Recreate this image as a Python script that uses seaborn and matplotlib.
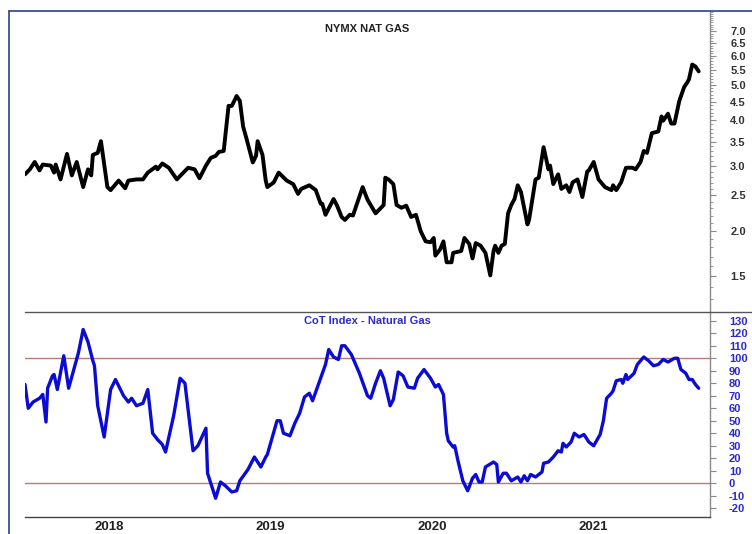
import matplotlib
matplotlib.use('Agg')
import matplotlib.pyplot as plt
import seaborn as sns
from matplotlib.lines import Line2D
from matplotlib.ticker import NullFormatter
from matplotlib.transforms import ScaledTranslation

# NYMEX natural gas (decimal year, price)
gas_years = [2017.59, 2017.62, 2017.65, 2017.68, 2017.70, 2017.75, 2017.77, 2017.78, 2017.81, 2017.85,
             2017.88, 2017.91, 2017.95, 2017.98, 2018.00, 2018.01, 2018.04, 2018.06, 2018.10, 2018.12,
             2018.17, 2018.21, 2018.23, 2018.28, 2018.32, 2018.35, 2018.40, 2018.41, 2018.44, 2018.48,
             2018.53, 2018.56, 2018.60, 2018.64, 2018.67, 2018.71, 2018.74, 2018.77, 2018.79, 2018.82,
             2018.85, 2018.87, 2018.90, 2018.92, 2018.94, 2018.96, 2019.00, 2019.02, 2019.03, 2019.06,
             2019.08, 2019.09, 2019.13, 2019.16, 2019.21, 2019.25, 2019.28, 2019.30, 2019.35, 2019.39,
             2019.42, 2019.43, 2019.45, 2019.50, 2019.52, 2019.55, 2019.57, 2019.60, 2019.62, 2019.68,
             2019.71, 2019.76, 2019.81, 2019.82, 2019.84, 2019.87, 2019.89, 2019.92, 2019.95, 2019.98,
             2020.01, 2020.04, 2020.07, 2020.10, 2020.12, 2020.13, 2020.16, 2020.18, 2020.20, 2020.23,
             2020.24, 2020.29, 2020.31, 2020.34, 2020.36, 2020.38, 2020.41, 2020.44, 2020.47, 2020.49,
             2020.50, 2020.52, 2020.54, 2020.56, 2020.58, 2020.60, 2020.62, 2020.64, 2020.66, 2020.70,
             2020.71, 2020.75, 2020.77, 2020.80, 2020.83, 2020.84, 2020.86, 2020.89, 2020.91, 2020.94,
             2020.96, 2020.98, 2021.01, 2021.04, 2021.07, 2021.08, 2021.11, 2021.14, 2021.18, 2021.22,
             2021.23, 2021.25, 2021.28, 2021.31, 2021.35, 2021.37, 2021.40, 2021.42, 2021.44, 2021.47,
             2021.51, 2021.53, 2021.54, 2021.57, 2021.59, 2021.61, 2021.64, 2021.67, 2021.69, 2021.70,
             2021.72, 2021.74, 2021.76]
gas_price = [2.85, 2.94, 3.08, 2.92, 3.03, 3.01, 2.88, 3.03, 2.76, 3.24,
             2.83, 3.08, 2.63, 2.94, 2.83, 3.22, 3.26, 3.51, 2.63, 2.58,
             2.74, 2.61, 2.74, 2.76, 2.76, 2.88, 2.99, 2.94, 3.05, 2.97,
             2.76, 2.85, 2.97, 2.94, 2.78, 3.01, 3.16, 3.20, 3.28, 3.30,
             4.38, 4.38, 4.66, 4.52, 3.85, 3.58, 3.07, 3.20, 3.51, 3.22,
             2.74, 2.63, 2.71, 2.88, 2.74, 2.68, 2.52, 2.60, 2.66, 2.58,
             2.37, 2.37, 2.21, 2.44, 2.35, 2.18, 2.14, 2.21, 2.20, 2.63,
             2.43, 2.23, 2.35, 2.79, 2.76, 2.68, 2.35, 2.31, 2.34, 2.18,
             2.21, 1.99, 1.87, 1.86, 1.91, 1.71, 1.78, 1.87, 1.64, 1.64,
             1.74, 1.76, 1.91, 1.84, 1.68, 1.85, 1.82, 1.74, 1.51, 1.76,
             1.82, 1.74, 1.82, 1.84, 2.23, 2.35, 2.44, 2.66, 2.55, 2.08,
             2.14, 2.76, 2.79, 3.38, 2.94, 3.01, 2.68, 2.85, 2.60, 2.66,
             2.55, 2.71, 2.76, 2.47, 2.90, 2.92, 3.08, 2.76, 2.63, 2.58,
             2.66, 2.58, 2.71, 2.97, 2.97, 2.94, 3.08, 3.30, 3.26, 3.69,
             3.73, 4.10, 3.99, 4.17, 3.92, 3.92, 4.52, 4.93, 5.08, 5.18,
             5.68, 5.61, 5.44]

# CoT index (decimal year, index)
cot_years = [2017.59, 2017.61, 2017.64, 2017.68, 2017.70, 2017.72, 2017.73, 2017.76, 2017.77, 2017.79,
             2017.83, 2017.86, 2017.92, 2017.95, 2017.98, 2018.01, 2018.02, 2018.04, 2018.08, 2018.12,
             2018.15, 2018.20, 2018.23, 2018.25, 2018.28, 2018.32, 2018.35, 2018.38, 2018.41, 2018.44,
             2018.46, 2018.51, 2018.55, 2018.58, 2018.63, 2018.66, 2018.71, 2018.72, 2018.77, 2018.80,
             2018.83, 2018.87, 2018.90, 2018.92, 2018.97, 2019.01, 2019.05, 2019.08, 2019.09, 2019.15,
             2019.17, 2019.19, 2019.23, 2019.26, 2019.29, 2019.32, 2019.35, 2019.37, 2019.42, 2019.45,
             2019.47, 2019.50, 2019.53, 2019.55, 2019.57, 2019.61, 2019.66, 2019.71, 2019.73, 2019.76,
             2019.79, 2019.81, 2019.85, 2019.87, 2019.90, 2019.93, 2019.96, 2020.00, 2020.02, 2020.06,
             2020.10, 2020.13, 2020.15, 2020.18, 2020.20, 2020.21, 2020.24, 2020.25, 2020.27, 2020.30,
             2020.33, 2020.36, 2020.38, 2020.40, 2020.42, 2020.44, 2020.49, 2020.51, 2020.52, 2020.55,
             2020.57, 2020.60, 2020.64, 2020.66, 2020.68, 2020.70, 2020.72, 2020.75, 2020.79, 2020.80,
             2020.83, 2020.86, 2020.89, 2020.91, 2020.92, 2020.94, 2020.97, 2020.99, 2021.02, 2021.05,
             2021.08, 2021.11, 2021.15, 2021.17, 2021.19, 2021.22, 2021.23, 2021.25, 2021.28, 2021.29,
             2021.31, 2021.32, 2021.36, 2021.38, 2021.42, 2021.45, 2021.48, 2021.51, 2021.54, 2021.57,
             2021.61, 2021.63, 2021.65, 2021.68, 2021.70, 2021.72, 2021.74, 2021.76]
cot_index = [79, 60, 65, 68, 71, 49, 76, 86, 87, 75,
             102, 76, 104, 123, 113, 98, 94, 62, 37, 75,
             83, 70, 65, 68, 62, 64, 75, 40, 35, 31,
             25, 54, 84, 80, 26, 30, 44, 8, -12, 1,
             -2, -7, -6, 2, 11, 21, 13, 21, 23, 50,
             50, 40, 38, 48, 56, 69, 72, 66, 84, 95,
             107, 101, 99, 110, 110, 103, 88, 70, 68, 80,
             90, 84, 62, 67, 89, 86, 77, 76, 84, 91,
             84, 77, 79, 71, 40, 34, 29, 30, 18, 2,
             -6, 4, 7, 1, 1, 13, 17, 15, 1, 8,
             8, 2, 5, 1, 6, 2, 7, 5, 9, 16,
             17, 21, 26, 25, 32, 29, 33, 40, 37, 39,
             33, 30, 39, 50, 68, 72, 74, 82, 83, 80,
             87, 83, 88, 95, 101, 98, 94, 95, 99, 97,
             100, 100, 91, 88, 83, 83, 79, 76]

price_ticks = [1.5, 2.0, 2.5, 3.0, 3.5, 4.0, 4.5, 5.0, 5.5, 6.0, 6.5, 7.0]
cot_ticks = list(range(-20, 131, 10))
year_ticks = [2018, 2019, 2020, 2021]

sns.set_style('white')
plt.rcParams['font.family'] = ['Liberation Sans', 'DejaVu Sans']

W, H = 752, 534
fig = plt.figure(figsize=(W / 100, H / 100), dpi=100)
ax1 = fig.add_axes([25 / W, 1 - 312 / H, 685 / W, 300 / H])
ax2 = fig.add_axes([25 / W, 1 - 517 / H, 685 / W, 205 / H], sharex=ax1)

navy = '#2b3f8c'
blue = '#0b0bd4'
grey = '#8a8a8a'

# price panel
sns.lineplot(x=gas_years, y=gas_price, ax=ax1, color='black', linewidth=2.8,
             estimator=None, sort=False)
ax1.set_yscale('log')
ax1.set_ylim(1.25, 7.9)
ax1.yaxis.tick_right()
ax1.set_yticks(price_ticks, labels=[f'{t:.1f}' for t in price_ticks],
               fontsize=8, fontweight='bold', color='#333333')
minor = [round(1.2 + 0.1 * i, 1) for i in range(68)]
ax1.set_yticks([m for m in minor if m not in price_ticks], minor=True)
ax1.yaxis.set_minor_formatter(NullFormatter())
ax1.tick_params(axis='y', which='major', direction='out', length=4.5, width=0.8,
                color=grey, pad=10)
ax1.tick_params(axis='y', which='minor', direction='out', length=2.5, width=0.6,
                color=grey)
ax1.tick_params(axis='x', which='both', bottom=False, top=False, labelbottom=False)
ax1.text(0.5, 0.943, 'NYMX NAT GAS', transform=ax1.transAxes, ha='center',
         va='center', fontsize=8, fontweight='bold', color='#222222')

# CoT panel
sns.lineplot(x=cot_years, y=cot_index, ax=ax2, color=blue, linewidth=2.4,
             estimator=None, sort=False)
ax2.axhline(0, color='#b57a7a', linewidth=1, zorder=0)
ax2.axhline(100, color='#b57a7a', linewidth=1, zorder=0)
ax2.set_ylim(-27, 137)
ax2.yaxis.tick_right()
ax2.set_yticks(cot_ticks, labels=[str(t) for t in cot_ticks],
               fontsize=8, fontweight='bold', color='#2a2ad0')
ax2.tick_params(axis='y', direction='out', length=4.5, width=0.8, color=grey, pad=9)
ax2.text(0.5, 0.956, 'CoT Index - Natural Gas', transform=ax2.transAxes, ha='center',
         va='center', fontsize=8, fontweight='bold', color='#2a2ad0')

ax2.set_xlim(2017.59, 2021.83)
ax2.set_xticks(year_ticks, labels=[str(y) for y in year_ticks],
               fontsize=9.5, fontweight='bold', color='#222222')
months = [y + m / 12 for y in range(2017, 2022) for m in range(12)]
ax2.set_xticks([m for m in months if 2017.6 < m < 2021.83 and m not in year_ticks], minor=True)
ax2.tick_params(axis='x', which='major', direction='out', length=12, width=0.8,
                color='#444444', pad=-9)
ax2.tick_params(axis='x', which='minor', direction='in', length=3.5, width=0.8,
                color='#444444')
for lbl in ax2.get_xticklabels():
    lbl.set_horizontalalignment('left')
    lbl.set_transform(lbl.get_transform() + ScaledTranslation(2 / 72, 0, fig.dpi_scale_trans))

for ax in (ax1, ax2):
    ax.set_xlabel('')
    ax.set_ylabel('')
    ax.spines['left'].set_visible(False)
    ax.spines['top'].set_visible(False)
    ax.spines['right'].set_color(grey)
    ax.spines['right'].set_linewidth(1)
ax1.spines['bottom'].set_visible(False)
ax2.spines['bottom'].set_color('#444444')
ax2.spines['bottom'].set_linewidth(1)

# frame and divider
fig.add_artist(Line2D([9 / W, 1], [1 - 11 / H] * 2, transform=fig.transFigure,
                      color=navy, linewidth=1.2))
fig.add_artist(Line2D([9 / W, 9 / W], [0, 1 - 11 / H], transform=fig.transFigure,
                      color=navy, linewidth=1.2))
fig.add_artist(Line2D([25 / W, 1], [1 - 312 / H] * 2, transform=fig.transFigure,
                      color='#555555', linewidth=1))

fig.savefig('out.png', dpi=100)
